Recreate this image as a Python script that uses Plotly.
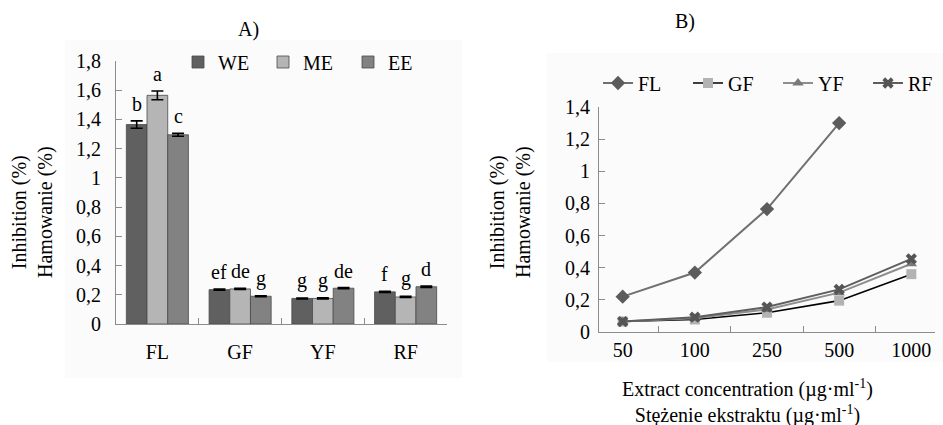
import plotly.graph_objects as go

W, H = 943, 425

# ---------------- Data: panel A ----------------
fractions = ["FL", "GF", "YF", "RF"]
we_vals = [1.365, 0.235, 0.175, 0.220]
me_vals = [1.565, 0.240, 0.175, 0.185]
ee_vals = [1.295, 0.190, 0.245, 0.255]
we_err = [0.025, 0.004, 0.003, 0.004]
me_err = [0.030, 0.004, 0.004, 0.004]
ee_err = [0.010, 0.003, 0.004, 0.004]
we_letters = ["b", "ef", "g", "f"]
me_letters = ["a", "de", "g", "g"]
ee_letters = ["c", "g", "de", "d"]

# ---------------- Data: panel B ----------------
concentrations = ["50", "100", "250", "500", "1000"]
fl_line = [0.22, 0.37, 0.765, 1.30, None]
gf_line = [0.065, 0.078, 0.12, 0.195, 0.36]
yf_line = [0.065, 0.085, 0.14, 0.245, 0.425]
rf_line = [0.065, 0.092, 0.155, 0.265, 0.455]
fl_err = [0, 0, 0, 0.012, 0]

yticks_a = [0, 0.2, 0.4, 0.6, 0.8, 1.0, 1.2, 1.4, 1.6, 1.8]
yticks_b = [0, 0.2, 0.4, 0.6, 0.8, 1.0, 1.2, 1.4]


def fmt(v):
    s = ("%.1f" % v).rstrip("0").rstrip(".")
    return s.replace(".", ",")


FONT = "Liberation Serif"
AX = "#8c8c8c"
TXT = dict(family=FONT, size=20, color="black")

fig = go.Figure()

bar_specs = [
    ("WE", we_vals, we_err, "#606060"),
    ("ME", me_vals, me_err, "#b5b5b5"),
    ("EE", ee_vals, ee_err, "#828282"),
]
for name, vals, err, col in bar_specs:
    fig.add_trace(go.Bar(
        x=fractions, y=vals, name=name,
        marker=dict(color=col, line=dict(color="#4a4a4a", width=0.8)),
        error_y=dict(type="data", array=err, visible=True, color="black",
                     thickness=1.6, width=6),
        xaxis="x", yaxis="y", legend="legend",
    ))

line_specs = [
    ("FL", fl_line, "#707070", 2, "diamond", 11, "#5c5c5c", fl_err),
    ("GF", gf_line, "#000000", 1.6, "square", 10, "#b3b3b3", None),
    ("YF", yf_line, "#8e8e8e", 2, "triangle-up", 10, "#7a7a7a", None),
    ("RF", rf_line, "#5e5e5e", 2, "x", 10, "#555555", None),
]
for name, vals, lc, lw, sym, ms, mc, err in line_specs:
    tr = go.Scatter(
        x=concentrations, y=vals, name=name, mode="lines+markers",
        line=dict(color=lc, width=lw),
        marker=dict(symbol=sym, size=ms, color=mc),
        xaxis="x2", yaxis="y2", legend="legend2",
    )
    if err is not None:
        tr.error_y = dict(type="data", array=err, visible=True, color="#333",
                          thickness=1.5, width=4)
    fig.add_trace(tr)

# letters above bars
ann = []
offsets = [-0.25, 0.0, 0.25]
for k, (vals, err, letters) in enumerate([(we_vals, we_err, we_letters),
                                          (me_vals, me_err, me_letters),
                                          (ee_vals, ee_err, ee_letters)]):
    for i in range(len(fractions)):
        ann.append(dict(x=i + offsets[k], y=vals[i] + err[i], xref="x", yref="y",
                        text=letters[i], showarrow=False, xanchor="center",
                        yanchor="bottom", yshift=4, font=TXT))


def pann(x, y, text, **kw):
    d = dict(x=x / W, y=1 - y / H, xref="paper", yref="paper", text=text,
             showarrow=False, xanchor="center", yanchor="middle", font=TXT)
    d.update(kw)
    return d


ann += [
    pann(248, 30, "A)"),
    pann(685, 22, "B)"),
    pann(33, 212, "Inhibition (%)<br>Hamowanie (%)", textangle=-90),
    pann(511, 212, "Inhibition (%)<br>Hamowanie (%)", textangle=-90),
    pann(747, 401, "Extract concentration (µg·ml<sup>-1</sup>)<br>"
                   "Stężenie ekstraktu (µg·ml<sup>-1</sup>)"),
]

shapes = [
    dict(type="rect", xref="paper", yref="paper", x0=65 / W, x1=462 / W,
         y0=1 - 378 / H, y1=1 - 40 / H, fillcolor="#fbfbfb", line=dict(width=0),
         layer="below"),
    dict(type="rect", xref="paper", yref="paper", x0=547 / W, x1=1,
         y0=1 - 362 / H, y1=1 - 53 / H, fillcolor="#fbfbfb", line=dict(width=0),
         layer="below"),
]

axis_common = dict(showline=True, linecolor=AX, linewidth=1, showgrid=False,
                   zeroline=False, ticks="inside", tickcolor=AX, ticklen=6,
                   automargin=False, tickfont=TXT)

fig.update_layout(
    template="none",
    font=dict(family=FONT, size=20, color="black"),
    width=W, height=H, margin=dict(l=0, r=0, t=0, b=0, autoexpand=False),
    paper_bgcolor="white", plot_bgcolor="rgba(0,0,0,0)",
    barmode="group", bargap=0.25, bargroupgap=0,
    annotations=ann, shapes=shapes, showlegend=True,
    xaxis=dict(domain=[116 / W, 447 / W], anchor="y", type="category",
               tickson="boundaries", ticklabelstandoff=10, **axis_common),
    yaxis=dict(domain=[1 - 324 / H, 1 - 61 / H], anchor="x", range=[0, 1.8],
               tickvals=yticks_a, ticktext=[fmt(v) for v in yticks_a],
               ticklabelstandoff=10, **axis_common),
    xaxis2=dict(domain=[599 / W, 935 / W], anchor="y2", type="category",
                tickson="boundaries", ticklabelstandoff=0, **axis_common),
    yaxis2=dict(domain=[1 - 332 / H, 1 - 107 / H], anchor="x2", range=[0, 1.4],
                tickvals=yticks_b, ticktext=[fmt(v) for v in yticks_b],
                ticklabelstandoff=4, **axis_common),
    legend=dict(orientation="h", x=178 / W, y=1 - 62 / H, xanchor="left",
                yanchor="middle", font=TXT,
                bgcolor="rgba(0,0,0,0)", entrywidth=40, itemwidth=30),
    legend2=dict(orientation="h", x=598 / W, y=1 - 83 / H, xanchor="left",
                 yanchor="middle", font=TXT,
                 bgcolor="rgba(0,0,0,0)", entrywidth=45, itemwidth=30),
)

fig.write_html("out.html", config={"displayModeBar": False},
               post_script="document.body.style.margin='0';")
